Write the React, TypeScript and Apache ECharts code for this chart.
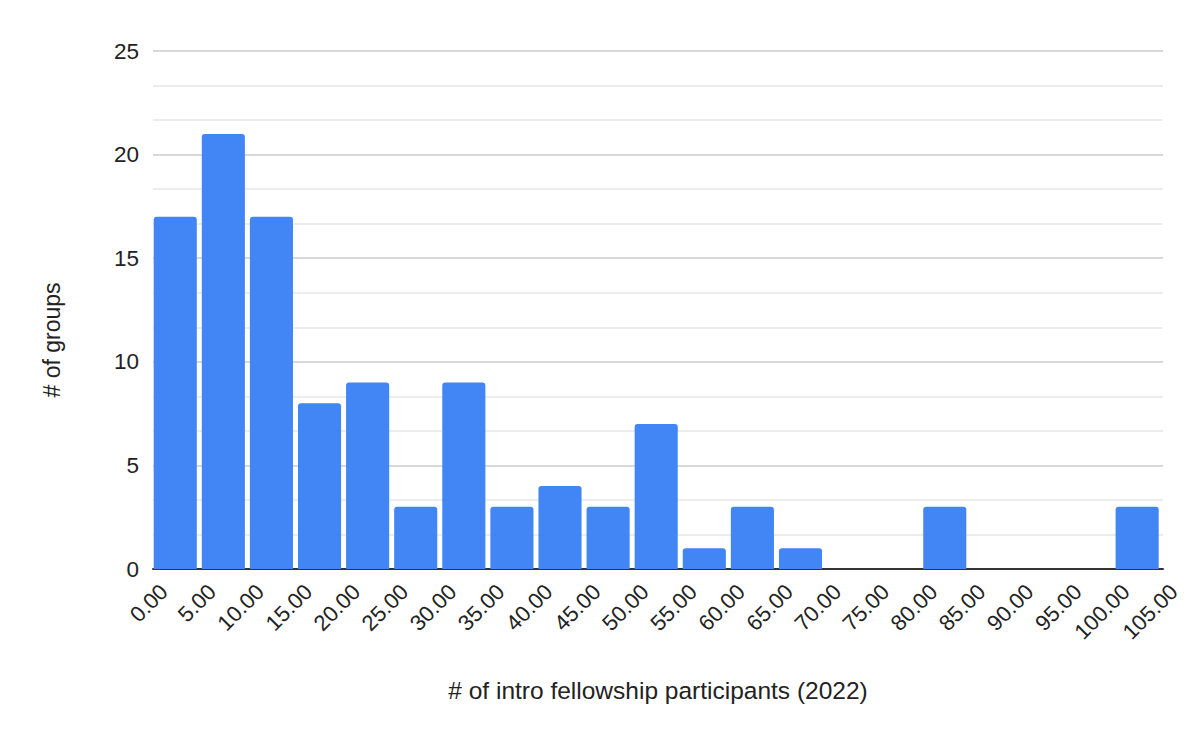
import React, { useEffect, useRef } from "react";
import * as echarts from "echarts";

const binStarts = [0, 5, 10, 15, 20, 25, 30, 35, 40, 45, 50, 55, 60, 65, 70, 75, 80, 85, 90, 95, 100];
const binWidth = 5;
const counts = [17, 21, 17, 8, 9, 3, 9, 3, 4, 3, 7, 1, 3, 1, 0, 0, 3, 0, 0, 0, 3];
const xTitle = "# of intro fellowship participants (2022)";
const yTitle = "# of groups";

const FONT = "'Liberation Sans', Arial, sans-serif";

export default function App() {
  const ref = useRef<HTMLDivElement>(null);
  useEffect(() => {
    if (!ref.current) return;
    const chart = echarts.init(ref.current, null, { renderer: "svg" });
    const data = binStarts.map((s, i) => [s, s + binWidth, counts[i]]);
    chart.setOption({
      animation: false,
      backgroundColor: "#ffffff",
      grid: { left: 153, right: 37, top: 51, bottom: 173, containLabel: false },
      xAxis: {
        type: "value",
        min: 0,
        max: 105,
        interval: 5,
        name: xTitle,
        nameLocation: "middle",
        nameGap: 109,
        nameTextStyle: { fontFamily: FONT, fontSize: 24.5, color: "#222222" },
        axisLine: { show: true, onZero: false, lineStyle: { color: "#333333", width: 2 } },
        axisTick: { show: false },
        splitLine: { show: false },
        axisLabel: {
          rotate: 45,
          margin: 8,
          verticalAlign: "top",
          lineHeight: 31,
          fontFamily: FONT,
          fontSize: 22,
          color: "#222222",
          formatter: (v: number) => v.toFixed(2),
          showMinLabel: true,
          showMaxLabel: true,
        },
      },
      yAxis: {
        type: "value",
        min: 0,
        max: 25,
        interval: 5,
        name: yTitle,
        nameLocation: "middle",
        nameGap: 90,
        nameTextStyle: { fontFamily: FONT, fontSize: 23, color: "#222222", padding: [0, 60, 0, 0] },
        axisLine: { show: false },
        axisTick: { show: false },
        axisLabel: { margin: 14, fontFamily: FONT, fontSize: 22.5, color: "#222222" },
        splitLine: { show: true, lineStyle: { color: "#cccccc", width: 1.5 } },
        minorTick: { show: false, splitNumber: 3 },
        minorSplitLine: { show: true, lineStyle: { color: "#e6e6e6", width: 1.5 } },
      },
      series: [
        {
          type: "custom",
          data,
          encode: { x: [0, 1], y: 2 },
          renderItem: (params: any, api: any) => {
            const v = api.value(2);
            if (!v) return null;
            const p0 = api.coord([api.value(0), v]);
            const p1 = api.coord([api.value(1), 0]);
            return {
              type: "rect",
              shape: {
                x: p0[0] + 0.7,
                y: p0[1],
                width: p1[0] - p0[0] - 5,
                height: p1[1] - p0[1],
                r: [3, 3, 0, 0],
              },
              style: { fill: "#4285f4" },
            };
          },
          z: 1,
        },
      ],
    });
    return () => chart.dispose();
  }, []);
  return <div ref={ref} style={{ width: 1200, height: 742, margin: -8 }} />;
}
